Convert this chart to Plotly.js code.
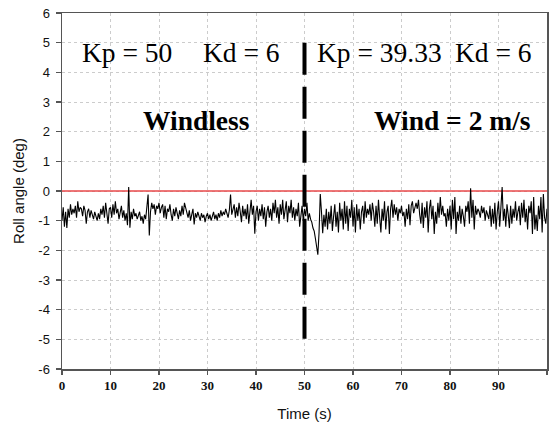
<!DOCTYPE html>
<html>
<head>
<meta charset="utf-8">
<script src="https://cdn.plot.ly/plotly-3.0.1.min.js"></script>
<style>html,body{margin:0;padding:0;background:#fff;}#chart{width:552px;height:432px;}</style>
</head>
<body>
<div id="chart"></div>
<script>
// Sample step of the roll-angle record (s)
const timeStep = 0.25;
// Roll angle (deg), one value every 0.25 s from 0 to 100 s
const rollAngle = [
 -1.0,-0.55,-1.2,-0.7,  -1.25,-0.6,-0.9,-0.45,  -0.8,-0.6,-0.75,-0.5,  -0.9,-0.35,-0.7,-0.55,  -0.6,-0.85,-0.5,-0.65,
 -1.1,-0.7,-0.6,-0.9,   -0.65,-0.8,-0.95,-0.7,  -0.85,-1.0,-0.75,-0.95, -0.6,-0.8,-0.5,-0.9,    -0.4,-0.7,-1.1,-0.6,
 -0.55,-0.9,-0.45,-0.8, -0.35,-0.75,-0.6,-0.95, -0.7,-0.5,-0.9,-0.65,  -1.0,-0.75,-1.15,0.13,   -1.24,-0.7,-0.95,-0.6,
 -0.85,-0.75,-0.95,-0.8,-0.7,-1.0,-0.85,-1.1,   -0.8,-0.95,-0.6,-0.12,  -1.5,-0.7,-0.4,-0.6,     -0.45,-0.8,-0.5,-0.6,
 -0.4,-0.75,-0.55,-0.45,-0.9,-0.5,-0.95,-0.6,   -0.7,-0.45,-0.8,-1.0,   -0.6,-0.85,-0.55,-0.75,  -0.95,-0.65,-0.85,-0.5,
 -0.8,-0.4,-0.6,-0.7,   -0.9,-0.65,-1.0,-0.8,   -0.6,-1.13,-0.75,-0.9,  -0.7,-0.85,-1.0,-0.75,   -0.9,-0.8,-1.05,-0.85,
 -0.75,-0.95,-0.8,-1.0, -0.85,-0.7,-0.95,-0.8,  -1.0,-0.75,-0.9,-0.65,  -0.85,-0.7,-0.8,-0.6,    -0.75,-0.9,-0.65,-0.12,
 -0.8,-0.6,-0.45,-0.9,  -0.55,-0.85,-0.4,-0.7,  -1.05,-0.5,-0.85,-0.6,  -0.95,-0.45,-1.1,-0.7,   -0.3,-0.8,-0.5,-1.44,
 -0.7,-0.5,-1.0,-0.6,   -0.85,-0.45,-0.95,-0.55,-1.2,-0.7,-0.5,-0.9,    -0.6,-1.0,-0.4,-0.75,    -0.3,-0.9,-0.55,-1.1,
 -0.45,-0.8,-0.3,-0.95, -0.6,-0.35,-1.05,-0.5,  -0.75,-0.3,-0.9,-0.55,  -1.0,-0.6,-0.85,-0.4,    -1.2,-0.7,-0.5,-1.0,
 -0.6,-0.85,-0.4,-1.0,  -0.75,-0.95,-1.05,-1.25,-1.35,-1.6,-1.85,-2.15, -1.4,-0.1,-0.7,-1.42,    -0.8,-1.2,-0.6,-1.3,
 -0.7,-1.1,-0.5,-1.35,  -0.85,-0.45,-1.2,-0.7,  -1.4,-0.4,-1.0,-0.6,    -1.3,-0.35,-1.1,-0.5,    -1.35,-0.6,-0.9,-0.3,
 -1.2,-0.55,-1.4,-0.45, -1.0,-0.6,-1.3,-0.7,    -0.5,-1.1,-0.35,-0.9,   -0.6,-0.8,-0.45,-1.0,    -0.4,-0.7,-1.2,-0.5,
 -1.1,-0.3,-0.9,-1.4,   -0.6,-1.0,-0.35,-1.3,   -0.7,-0.5,-1.45,-0.6,   -0.3,-0.9,-0.45,-0.8,    -0.55,-1.0,-0.6,-0.75,
 -0.5,-0.85,-0.7,-1.2,  -0.6,-0.95,-0.45,-1.15, -0.5,-0.35,-0.75,-0.55, -0.4,-0.6,-0.3,-0.8,     -1.1,-0.4,-1.25,-0.55,
 -0.9,-0.35,-1.4,-0.6,  -0.3,-0.95,-0.5,-1.45,  -0.7,-1.1,-0.4,-0.9,    -0.2,-0.8,-0.5,-0.85,    -0.75,-1.2,-0.6,-1.0,
 -0.5,-1.3,-0.3,-0.95,  -0.2,-1.45,-0.7,-1.0,   -0.5,-1.1,-0.6,-0.85,   -1.2,-0.5,-0.7,-0.35,    -1.1,0.09,-0.9,-0.3,
 -1.3,-0.5,-0.8,-0.6,   -0.7,-0.9,-0.5,-0.75,   -0.55,-1.0,-0.65,-0.8,  -0.95,-0.5,-1.2,-0.6,    -1.1,-0.4,-1.3,-0.7,
 -0.35,-1.2,-0.6,0.13,  -1.0,-0.6,-1.2,-0.45,   -0.8,-1.25,-0.5,-1.1,   -0.6,-0.9,-0.35,-1.0,    -0.7,-0.5,-1.15,-0.4,
 -0.9,-0.3,-1.05,-0.6,  -1.3,-0.5,-0.75,-0.35,  -1.45,-0.2,-1.3,-0.8,   -1.35,-0.5,-0.95,-0.2,   -1.4,-0.1,-0.9,-1.1,
 -0.6
];
const timeValues = rollAngle.map((_, i) => i * timeStep);

// Reference line at zero roll
const refLineX = [0, 100];
const refLineY = [0, 0];
// Switch-over marker at 50 s
const dividerX = [50, 50];
const dividerY = [5, -5];

// Axis ticks
const xTickVals = [0, 10, 20, 30, 40, 50, 60, 70, 80, 90, 100];
const xTickLabels = ['0', '10', '20', '30', '40', '50', '60', '70', '80', '90', '100'];
const yTickVals = [-6, -5, -4, -3, -2, -1, 0, 1, 2, 3, 4, 5, 6];
const yTickLabels = ['-6', '-5', '-4', '-3', '-2', '-1', '0', '1', '2', '3', '4', '5', '6'];

// Annotation texts
const labelTexts = ['Kp = 50', 'Kd = 6', 'Kp = 39.33', 'Kd = 6', 'Windless', 'Wind = 2 m/s'];
const labelX = [4.0, 28.8, 52.4, 80.8, 16.5, 64.1];
const labelY = [4.68, 4.68, 4.68, 4.68, 2.38, 2.38];
const labelBold = [false, false, false, false, true, true];

const traces = [
  { x: refLineX, y: refLineY, mode: 'lines', line: { color: '#e8484a', width: 1.5 }, hoverinfo: 'skip' },
  { x: timeValues, y: rollAngle, mode: 'lines', line: { color: '#000000', width: 1.1 }, hoverinfo: 'skip' },
  { x: dividerX, y: dividerY, mode: 'lines', line: { color: '#000000', width: 4, dash: '32px,12px' }, hoverinfo: 'skip' }
];

const annotations = labelTexts.map((t, i) => ({
  text: t, x: labelX[i], y: labelY[i], xref: 'x', yref: 'y',
  xanchor: 'left', yanchor: 'middle', showarrow: false, borderpad: 0,
  font: { family: 'Liberation Serif', size: 27.5, color: '#000', weight: labelBold[i] ? 'bold' : 'normal' }
}));

const layout = {
  width: 552, height: 432,
  margin: { l: 62, r: 5, t: 13, b: 63, pad: 0 },
  paper_bgcolor: '#ffffff', plot_bgcolor: '#ffffff',
  showlegend: false,
  xaxis: {
    range: [0, 100], tickvals: xTickVals, ticktext: xTickLabels,
    ticks: 'outside', ticklen: 4, tickwidth: 1.5, tickcolor: '#555',
    tickfont: { family: 'Liberation Serif', size: 13, color: '#111', weight: 'bold' },
    showline: true, linecolor: '#555', linewidth: 1.5, mirror: true,
    showgrid: true, gridcolor: '#cccccc', griddash: 'dot', gridwidth: 1,
    zeroline: false, fixedrange: true,
    title: { text: 'Time (s)', font: { family: 'Liberation Sans', size: 15, color: '#111' }, standoff: 16 }
  },
  yaxis: {
    range: [-6, 6], tickvals: yTickVals, ticktext: yTickLabels,
    ticks: 'outside', ticklen: 5, tickwidth: 1.5, tickcolor: '#555',
    ticklabelstandoff: 3,
    tickfont: { family: 'Liberation Sans', size: 13, color: '#111' },
    showline: true, linecolor: '#555', linewidth: 1.5, mirror: true,
    showgrid: true, gridcolor: '#cccccc', griddash: 'dot', gridwidth: 1,
    zeroline: false, fixedrange: true,
    title: { text: 'Roll angle (deg)', font: { family: 'Liberation Sans', size: 15, color: '#111' }, standoff: 10 }
  },
  annotations: annotations
};

Plotly.newPlot('chart', traces, layout, { displayModeBar: false, staticPlot: true });
</script>
</body>
</html>
